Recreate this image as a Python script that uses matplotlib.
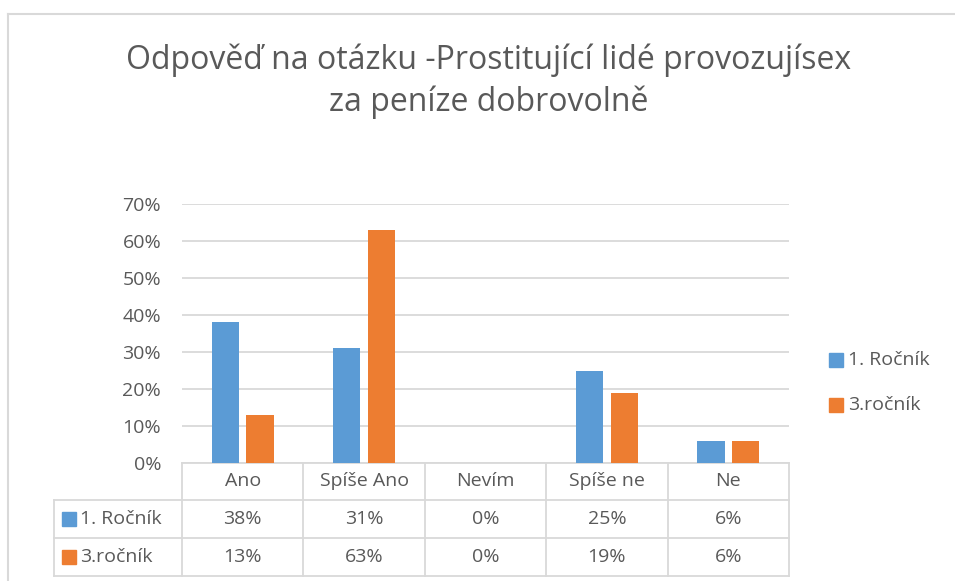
import matplotlib.pyplot as plt
from matplotlib.transforms import blended_transform_factory
from matplotlib.patches import Rectangle
from matplotlib.lines import Line2D

plt.rcParams['font.family'] = ['Open Sans', 'DejaVu Sans']

# data
categories = ['Ano', 'Spíše Ano', 'Nevím', 'Spíše ne', 'Ne']
series_names = ['1. Ročník', '3.ročník']
rocnik1 = [0.38, 0.31, 0.0, 0.25, 0.06]
rocnik3 = [0.13, 0.63, 0.0, 0.19, 0.06]
colors = ['#5B9BD5', '#ED7D31']
title = 'Odpověď na otázku -Prostitující lidé provozujísex\nza peníze dobrovolně'

W, H = 955, 581
fig = plt.figure(figsize=(W / 100, H / 100), dpi=100)
txt_c = '#595959'
fs = 14

def fx(px):
    return px / W

def fy(py):
    return 1 - py / H

# chart border (Excel chart area)
fig.add_artist(Line2D([fx(8), 1], [fy(14), fy(14)], color='#d9d9d9', lw=1.5))
fig.add_artist(Line2D([fx(8), fx(8)], [fy(14), 0], color='#d9d9d9', lw=1.5))

left, right, top, bottom = 182, 789, 204, 463
ax = fig.add_axes([fx(left), fy(bottom), fx(right - left), fy(top) - fy(bottom)])

x = list(range(len(categories)))
bw = 0.225
gap = 0.03
ax.bar([i - bw / 2 - gap for i in x], rocnik1, width=bw, color=colors[0], zorder=3)
ax.bar([i + bw / 2 + gap for i in x], rocnik3, width=bw, color=colors[1], zorder=3)

ax.set_xlim(-0.5, len(categories) - 0.5)
ax.set_ylim(0, 0.7)
ax.set_yticks([i / 10 for i in range(8)])
ax.set_yticklabels([f'{i * 10}%' for i in range(8)])
ax.tick_params(axis='y', length=0, labelsize=fs, labelcolor=txt_c, pad=15)
ax.set_xticks([])
ax.grid(axis='y', color='#d9d9d9', lw=1.3, zorder=0)
for s in ax.spines.values():
    s.set_visible(False)

# title
fig.text(fx(489), fy(81), title, ha='center', va='center', fontsize=23,
         color=txt_c, linespacing=1.35)

# legend (drawn in figure pixels)
for name, col, yc in zip(series_names, colors, [360, 405]):
    fig.add_artist(Rectangle((fx(829), fy(yc + 7)), fx(14), 14 / H, color=col))
    fig.text(fx(848), fy(yc), name, ha='left', va='center', fontsize=fs, color=txt_c)

# data table below the axes
trans = blended_transform_factory(ax.transData, ax.transAxes)
ax_h = bottom - top
def ya(py):
    return (bottom - py) / ax_h

cw = (right - left) / len(categories)
def xd(px):
    return (px - left) / cw - 0.5

row_y = [463, 500, 538, 576]
grid_c = '#d9d9d9'
tbl_left = xd(54)
edges = [-0.5 + i for i in range(len(categories) + 1)]

def hline(x0, x1, y):
    ax.add_line(Line2D([x0, x1], [ya(y), ya(y)], transform=trans, color=grid_c, lw=1.3, clip_on=False))

def vline(xv, y0, y1):
    ax.add_line(Line2D([xv, xv], [ya(y0), ya(y1)], transform=trans, color=grid_c, lw=1.3, clip_on=False))

hline(-0.5, edges[-1], row_y[0])
for yv in row_y[1:]:
    hline(tbl_left, edges[-1], yv)
vline(tbl_left, row_y[1], row_y[3])
for e in edges:
    vline(e, row_y[0], row_y[3])

txt_kw = dict(transform=trans, fontsize=fs, color=txt_c, va='center', clip_on=False)
for i, c in enumerate(categories):
    ax.text(i, ya((row_y[0] + row_y[1]) / 2), c, ha='center', **txt_kw)

for r, (name, vals) in enumerate(zip(series_names, [rocnik1, rocnik3])):
    yc = (row_y[r + 1] + row_y[r + 2]) / 2
    sq = 14
    ax.add_patch(Rectangle((xd(62), ya(yc + sq / 2)), sq / cw, sq / ax_h, transform=trans,
                           color=colors[r], clip_on=False))
    ax.text(xd(80), ya(yc), name, ha='left', **txt_kw)
    for i, v in enumerate(vals):
        ax.text(i, ya(yc), f'{round(v * 100)}%', ha='center', **txt_kw)

fig.savefig('out.png', dpi=100)
